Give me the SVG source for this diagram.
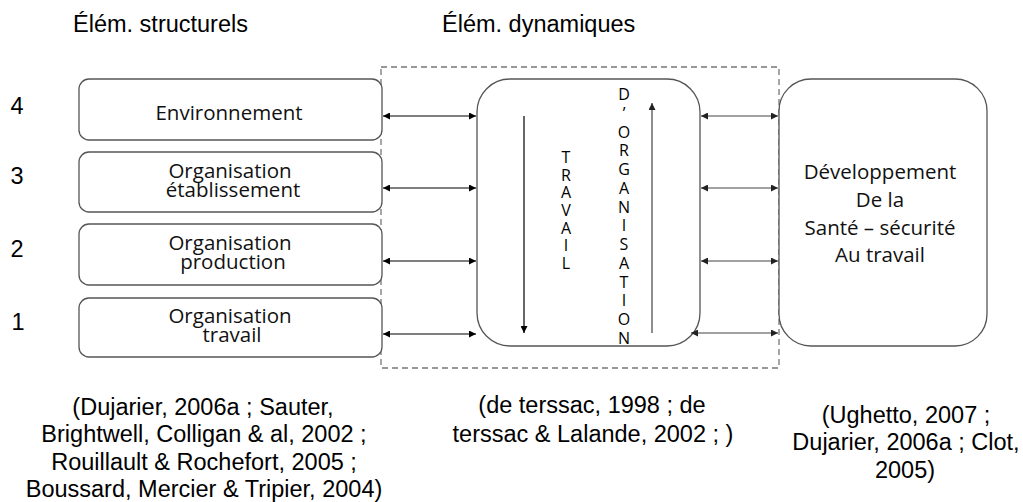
<svg xmlns="http://www.w3.org/2000/svg" width="1023" height="502" viewBox="0 0 1023 502">
<style>
.h{font-family:"Liberation Sans",Arial,sans-serif;font-size:23.5px;fill:#000}
.c{font-family:"Liberation Sans",Arial,sans-serif;font-size:23.5px;fill:#000;text-anchor:middle}
.b{font-family:"Open Sans","Noto Sans",sans-serif;font-size:20.5px;fill:#111;text-anchor:middle}
.v{font-family:"Open Sans","Noto Sans",sans-serif;font-size:16px;fill:#000;text-anchor:middle}
.box{fill:#fff;stroke:#555;stroke-width:1.3}
.ln{stroke:#000;stroke-width:1.2;fill:none}
.lg{stroke:#444;stroke-width:1.2;fill:none}
</style>
<defs>
<marker id="ah" viewBox="0 0 10 10" refX="10" refY="5" markerWidth="8" markerHeight="7" markerUnits="userSpaceOnUse" orient="auto-start-reverse">
<path d="M0,0 L10,5 L0,10 z" fill="#000"/>
</marker>
<marker id="ahg" viewBox="0 0 10 10" refX="10" refY="5" markerWidth="8" markerHeight="7" markerUnits="userSpaceOnUse" orient="auto-start-reverse">
<path d="M0,0 L10,5 L0,10 z" fill="#222"/>
</marker>
</defs>
<rect width="1023" height="502" fill="#fff"/>
<text class="h" x="73" y="32">Élém. structurels</text>
<text class="h" x="442" y="32">Élém. dynamiques</text>
<g id="levels">
<text class="c" x="17" y="114">4</text>
<text class="c" x="17" y="184">3</text>
<text class="c" x="17" y="257">2</text>
<text class="c" x="18" y="330">1</text>
</g>
<rect id="dyn-frame" x="381" y="67" width="398" height="301" fill="none" stroke="#777" stroke-width="1.3" stroke-dasharray="6 4"/>
<g id="env">
<rect class="box" x="79" y="79" width="303" height="61" rx="10"/>
<text class="b" x="229" y="120">Environnement</text>
</g>
<g id="org-etab">
<rect class="box" x="79" y="152" width="303" height="60" rx="10"/>
<text class="b" x="230" y="178">Organisation</text>
<text class="b" x="233" y="197">établissement</text>
</g>
<g id="org-prod">
<rect class="box" x="79" y="224" width="303" height="61" rx="10"/>
<text class="b" x="230" y="250">Organisation</text>
<text class="b" x="233" y="269">production</text>
</g>
<g id="org-trav">
<rect class="box" x="79" y="298" width="303" height="59" rx="10"/>
<text class="b" x="230" y="323">Organisation</text>
<text class="b" x="232" y="342">travail</text>
</g>
<g id="centre">
<rect class="box" x="477" y="79" width="223" height="267" rx="33"/>
<text class="v" x="566"><tspan x="566" y="163">T</tspan><tspan x="566" y="180.7">R</tspan><tspan x="566" y="198.3">A</tspan><tspan x="566" y="216">V</tspan><tspan x="566" y="233.7">A</tspan><tspan x="566" y="251.3">I</tspan><tspan x="566" y="269">L</tspan></text>
<text class="v" x="624"><tspan x="624" y="100">D</tspan><tspan x="624" y="118.8">’</tspan><tspan x="624" y="137.5">O</tspan><tspan x="624" y="156.3">R</tspan><tspan x="624" y="175">G</tspan><tspan x="624" y="193.8">A</tspan><tspan x="624" y="212.5">N</tspan><tspan x="624" y="231.3">I</tspan><tspan x="624" y="250">S</tspan><tspan x="624" y="268.8">A</tspan><tspan x="624" y="287.5">T</tspan><tspan x="624" y="306.3">I</tspan><tspan x="624" y="325">O</tspan><tspan x="624" y="343.8">N</tspan></text>
</g>
<g id="sante">
<rect class="box" x="779" y="79" width="208" height="267" rx="32"/>
<text class="b" x="880" y="179">Développement</text>
<text class="b" x="880" y="207">De la</text>
<text class="b" x="880" y="235">Santé – sécurité</text>
<text class="b" x="880" y="262">Au travail</text>
</g>
<g id="connectors">
<line class="ln" x1="383" y1="116" x2="476" y2="116" marker-start="url(#ah)" marker-end="url(#ah)"/>
<line class="ln" x1="383" y1="188" x2="476" y2="188" marker-start="url(#ah)" marker-end="url(#ah)"/>
<line class="ln" x1="383" y1="261" x2="476" y2="261" marker-start="url(#ah)" marker-end="url(#ah)"/>
<line class="ln" x1="383" y1="334" x2="476" y2="334" marker-start="url(#ah)" marker-end="url(#ah)"/>
<line class="lg" x1="701" y1="116" x2="778" y2="116" marker-start="url(#ahg)" marker-end="url(#ahg)"/>
<line class="lg" x1="701" y1="188" x2="778" y2="188" marker-start="url(#ahg)" marker-end="url(#ahg)"/>
<line class="lg" x1="701" y1="261" x2="778" y2="261" marker-start="url(#ahg)" marker-end="url(#ahg)"/>
<line class="lg" x1="691" y1="333" x2="778" y2="333" marker-start="url(#ahg)" marker-end="url(#ahg)"/>
<line class="ln" x1="524" y1="116" x2="524" y2="333" marker-end="url(#ah)"/>
<line class="lg" x1="652" y1="333" x2="652" y2="103" stroke="#555" marker-end="url(#ahg)"/>
</g>
<g id="refs">
<text class="c" x="203" y="415">(Dujarier, 2006a ; Sauter,</text>
<text class="c" x="204" y="442">Brightwell, Colligan &amp; al, 2002 ;</text>
<text class="c" x="204" y="470">Rouillault &amp; Rochefort, 2005 ;</text>
<text class="c" x="204" y="497">Boussard, Mercier &amp; Tripier, 2004)</text>
<text class="c" x="592" y="413">(de terssac, 1998 ; de</text>
<text class="c" x="593" y="442">terssac &amp; Lalande, 2002 ; )</text>
<text class="c" x="906" y="423">(Ughetto, 2007 ;</text>
<text class="c" x="906" y="450">Dujarier, 2006a ; Clot,</text>
<text class="c" x="905" y="478">2005)</text>
</g>
</svg>
